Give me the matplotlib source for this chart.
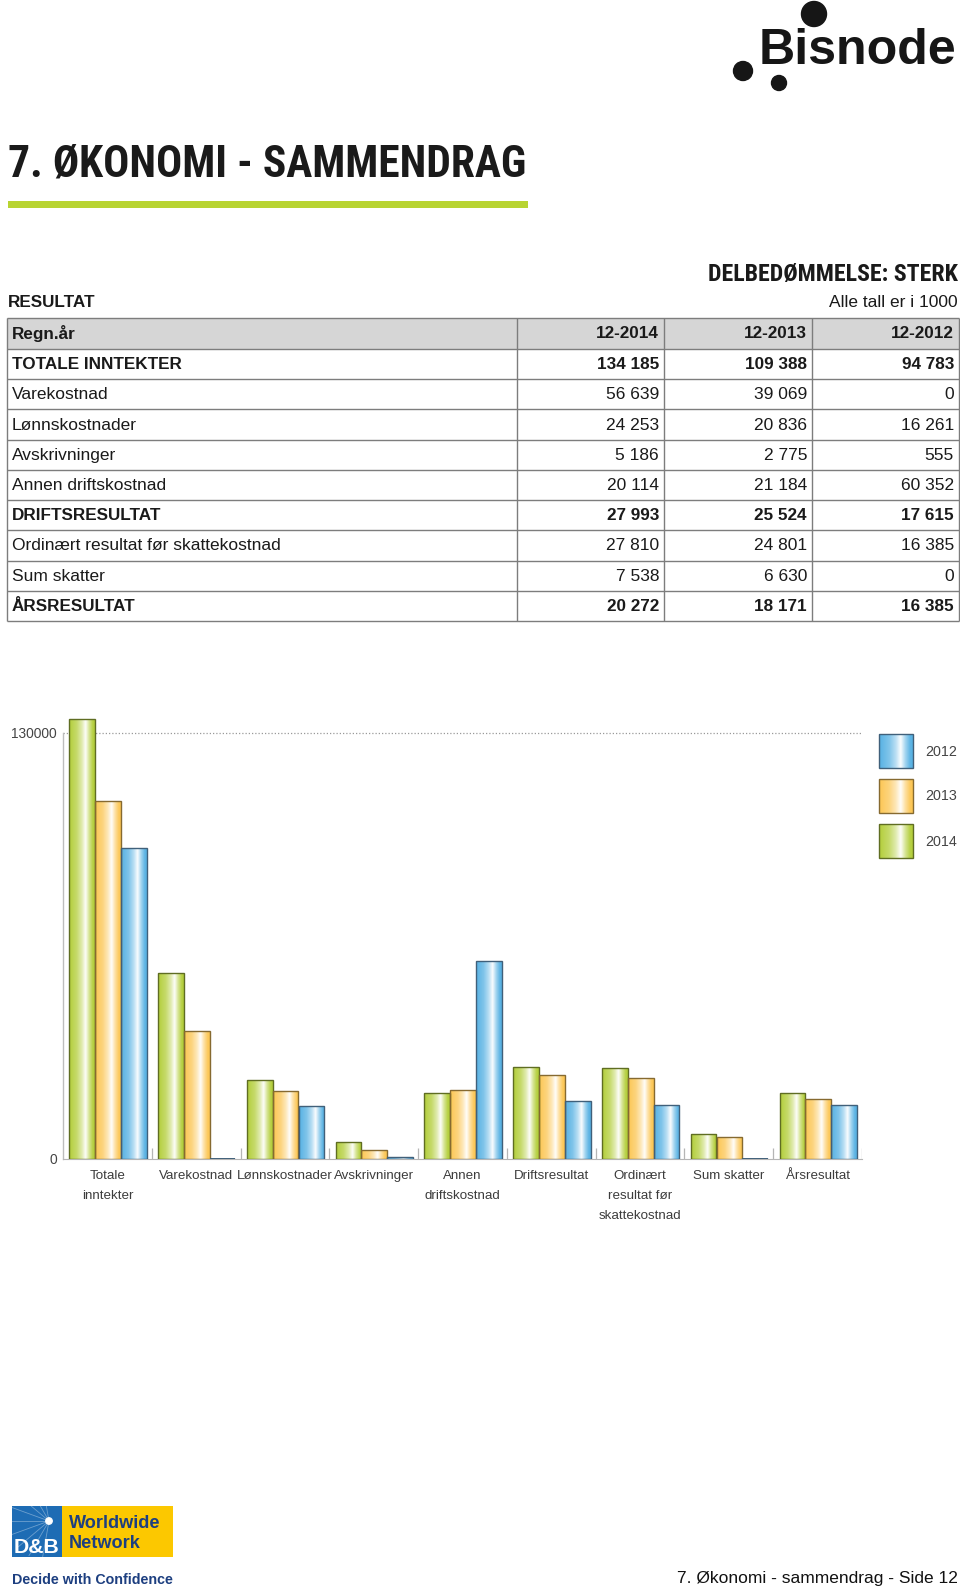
import os
import numpy as np
import matplotlib
matplotlib.use('Agg')
import matplotlib.pyplot as plt
import matplotlib.font_manager as fm
from matplotlib.colors import LinearSegmentedColormap, to_rgb
from matplotlib.patches import Rectangle, Circle

# ---------------- data ----------------
col_headers = ['12-2014', '12-2013', '12-2012']
row_labels = ['TOTALE INNTEKTER', 'Varekostnad', 'Lønnskostnader', 'Avskrivninger',
              'Annen driftskostnad', 'DRIFTSRESULTAT',
              'Ordinært resultat før skattekostnad', 'Sum skatter', 'ÅRSRESULTAT']
row_bold = [True, False, False, False, False, True, False, False, True]
vals_2014 = [134185, 56639, 24253, 5186, 20114, 27993, 27810, 7538, 20272]
vals_2013 = [109388, 39069, 20836, 2775, 21184, 25524, 24801, 6630, 18171]
vals_2012 = [94783, 0, 16261, 555, 60352, 17615, 16385, 0, 16385]
chart_labels = ['Totale\ninntekter', 'Varekostnad', 'Lønnskostnader', 'Avskrivninger',
                'Annen\ndriftskostnad', 'Driftsresultat',
                'Ordinært\nresultat før\nskattekostnad', 'Sum skatter', 'Årsresultat']
y_ticks = [0, 130000]
y_tick_labels = ['0', '130000']
legend_years = ['2012', '2013', '2014']

W, H = 960, 1589
plt.rcParams['font.family'] = ['Liberation Sans', 'DejaVu Sans']


def pick_condensed_bold():
    pref = []
    for f in fm.fontManager.ttflist:
        name = f.name.lower()
        base = os.path.basename(f.fname).lower()
        w = f.weight
        if not isinstance(w, (int, float)):
            w = fm.weight_dict.get(str(w), 400)
        if w < 600:
            continue
        if 'italic' in base or 'oblique' in base or f.style != 'normal':
            continue
        st = f.stretch
        cond = ('narrow' in name or 'narrow' in base or 'condensed' in name or 'condensed' in base
                or (isinstance(st, str) and 'condensed' in st)
                or (isinstance(st, (int, float)) and st < 500))
        if not cond:
            continue
        score = 0
        if 'liberation' in name:
            score = 3
        elif 'roboto' in name:
            score = 2
        elif 'dejavu' in name:
            score = 1
        pref.append((score, f.fname))
    if pref:
        pref.sort(reverse=True)
        return fm.FontProperties(fname=pref[0][1])
    return fm.FontProperties(family=['Liberation Sans', 'DejaVu Sans'], weight='bold')


cond_fp = pick_condensed_bold()

fig = plt.figure(figsize=(W / 100, H / 100), dpi=100)
renderer = fig.canvas.get_renderer()
bg = fig.add_axes([0, 0, 1, 1])
bg.set_xlim(0, W)
bg.set_ylim(H, 0)
bg.axis('off')


def fit(t, target_w, max_fs=None):
    bb = t.get_window_extent(renderer)
    fs = t.get_fontsize() * target_w / bb.width
    if max_fs is not None:
        fs = min(fs, max_fs)
    t.set_fontsize(fs)
    return t


# ---------------- header ----------------
logo = bg.text(759, 64, 'Bisnode', fontsize=32, weight='bold', color='#161616',
               ha='left', va='baseline')
fit(logo, 198)
for (cx, cy, r) in [(814, 14, 12.5), (743, 71, 9.5), (779, 83, 7.5)]:
    bg.add_patch(Circle((cx, cy), r, color='#161616'))

title = bg.text(8, 177, '7. ØKONOMI - SAMMENDRAG', fontproperties=cond_fp,
                color='#1a1a1a', ha='left', va='baseline')
title.set_fontsize(35)
fit(title, 519, max_fs=35)
bg.add_patch(Rectangle((8, 201), 520, 7, color='#b8d432', lw=0))

sub = bg.text(958, 281, 'DELBEDØMMELSE: STERK', fontproperties=cond_fp,
              color='#1a1a1a', ha='right', va='baseline')
sub.set_fontsize(17)
fit(sub, 251, max_fs=17.5)

bg.text(8, 307, 'RESULTAT', fontsize=12.3, weight='bold', color='#1a1a1a',
        ha='left', va='baseline')
bg.text(958, 307, 'Alle tall er i 1000', fontsize=12.5, color='#1a1a1a',
        ha='right', va='baseline')

# ---------------- table ----------------
tx0, tx1 = 7, 959
col_edges = [517, 664, 812, 959]
row_edges = [318] + list(np.linspace(349, 621, 10))
bg.add_patch(Rectangle((tx0, row_edges[0]), tx1 - tx0, row_edges[1] - row_edges[0],
                       fc='#d6d6d6', ec='none'))
for y in row_edges:
    bg.plot([tx0, tx1], [y, y], color='#7d7d7d', lw=1.0, solid_capstyle='butt')
for x in [tx0] + col_edges:
    bg.plot([x, x], [row_edges[0], row_edges[-1]], color='#7d7d7d', lw=1.0,
            solid_capstyle='butt')


def fmt(v):
    return f'{v:,}'.replace(',', ' ')


def row_text(i, label, cells, bold):
    yc = (row_edges[i] + row_edges[i + 1]) / 2 + 0.5
    w = 'bold' if bold else 'normal'
    fs = 12.3 if bold else 12.5
    bg.text(12, yc, label, fontsize=fs, weight=w, color='#1a1a1a', ha='left', va='center')
    for j, c in enumerate(cells):
        bg.text(col_edges[j + 1] - 5, yc, c, fontsize=fs, weight=w, color='#1a1a1a',
                ha='right', va='center')


row_text(0, 'Regn.år', col_headers, True)
for i, lab in enumerate(row_labels):
    row_text(i + 1, lab, [fmt(vals_2014[i]), fmt(vals_2013[i]), fmt(vals_2012[i])], row_bold[i])

# ---------------- chart ----------------
ax_left, ax_right = 63, 862
y0_px, top_px, y130_px = 1159, 700, 733
ax = fig.add_axes([ax_left / W, 1 - y0_px / H, (ax_right - ax_left) / W, (y0_px - top_px) / H])
ax.patch.set_alpha(0)
for s in ax.spines.values():
    s.set_visible(False)

ncat = len(chart_labels)
ymax = 130000 * (y0_px - top_px) / (y0_px - y130_px)


def mix(c, t):
    c = np.array(to_rgb(c))
    return tuple(c + (1 - c) * t)


styles = {
    '2014': ('#b3ce3a', '#5f6d22'),
    '2013': ('#fcc653', '#866a30'),
    '2012': ('#56b1e3', '#40607a'),
}


def grad_cmap(base):
    return LinearSegmentedColormap.from_list(
        'g', [(0.0, mix(base, 0.0)), (0.3, mix(base, 0.25)), (0.5, mix(base, 0.6)),
              (0.64, mix(base, 0.97)), (0.78, mix(base, 0.45)), (0.92, mix(base, 0.05)),
              (1.0, mix(base, 0.0))])


grad = np.linspace(0, 1, 256).reshape(1, -1)
offsets = [0.071, 0.362, 0.653]
bw = 0.29
xs = np.arange(ncat)
series = [('2014', vals_2014), ('2013', vals_2013), ('2012', vals_2012)]
for k, (yr, vals) in enumerate(series):
    base, edge = styles[yr]
    cm = grad_cmap(base)
    bars = ax.bar(xs + offsets[k], vals, width=bw, align='edge', color=base,
                  edgecolor='none', zorder=2)
    for p in bars.patches:
        h = p.get_height()
        if h <= 0:
            # zero-valued bar: shown as a flat line on the baseline
            ax.hlines(0, p.get_x(), p.get_x() + p.get_width(), color=edge, lw=1.4, zorder=3)
            continue
        im = ax.imshow(grad, cmap=cm, extent=(p.get_x(), p.get_x() + p.get_width(), 0, h),
                       aspect='auto', interpolation='bilinear', zorder=2.5)
        im.set_clip_path(p)
    ax.bar(xs + offsets[k], vals, width=bw, align='edge', fill=False,
           edgecolor=edge, lw=1.0, zorder=3)

ax.plot([0, ncat], [130000, 130000], ls=(0, (1, 1.6)), color='#9a9a9a', lw=0.9,
        zorder=1, clip_on=False)
ax.plot([0, 0], [0, 130000], color='#bdbdbd', lw=1.0, zorder=1, clip_on=False)
ax.plot([0, ncat], [0, 0], color='#b5b5b5', lw=0.8, zorder=1, clip_on=False)
ax.vlines(np.arange(1, ncat + 1), 0, 3400, color='#b5b5b5', lw=0.9, zorder=1)

ax.set_xlim(0, ncat)
ax.set_ylim(0, ymax)
ax.set_yticks(y_ticks)
ax.set_yticklabels(y_tick_labels, fontsize=9.9, color='#444444')
ax.set_xticks(xs + 0.5)
ax.set_xticklabels(chart_labels, fontsize=9.6, color='#3c3c3c', linespacing=1.9, va='top')
ax.tick_params(axis='x', length=0, pad=8)
ax.tick_params(axis='y', length=0, pad=4.3)

# legend (drawn manually on background axes)
leg_y = [734, 779, 824]
for yr, yt in zip(legend_years, leg_y):
    base, edge = styles[yr]
    bg.imshow(grad, cmap=grad_cmap(base), extent=(879, 913, yt + 34, yt), aspect='auto',
              interpolation='bilinear', zorder=2)
    bg.add_patch(Rectangle((879, yt), 34, 34, fill=False, ec=edge, lw=1.0, zorder=3))
    bg.text(925, yt + 17.5, yr, fontsize=10.3, color='#444444', ha='left', va='center')
bg.set_xlim(0, W)
bg.set_ylim(H, 0)

# ---------------- footer ----------------
bg.add_patch(Rectangle((12, 1506), 50, 51, fc='#1e6cb4', ec='none'))
bg.add_patch(Rectangle((62, 1506), 111, 51, fc='#fcc800', ec='none'))
for ang in np.linspace(100, 260, 9):
    a = np.deg2rad(ang)
    bg.plot([49, 49 + 40 * np.cos(a)], [1521, 1521 + 40 * np.sin(a)], color='white',
            lw=0.6, alpha=0.35, clip_on=True)
bg.add_patch(Circle((49, 1521), 3.2, color='white'))
db = bg.text(14, 1553, 'D&B', fontsize=15, weight='bold', color='white', ha='left', va='baseline')
fit(db, 46)
t1 = bg.text(69, 1528, 'Worldwide', fontsize=13, weight='bold', color='#1d3f80',
             ha='left', va='baseline')
fit(t1, 91)
t2 = bg.text(69, 1548, 'Network', fontsize=13, weight='bold', color='#1d3f80',
             ha='left', va='baseline')
t2.set_fontsize(t1.get_fontsize())
t3 = bg.text(12, 1584, 'Decide with Confidence', fontsize=11, weight='bold', color='#1d3f80',
             ha='left', va='baseline')
fit(t3, 161)
bg.text(958, 1583, '7. Økonomi - sammendrag - Side 12', fontsize=12.5, color='#111111',
        ha='right', va='baseline')

fig.savefig('out.png', dpi=100)
